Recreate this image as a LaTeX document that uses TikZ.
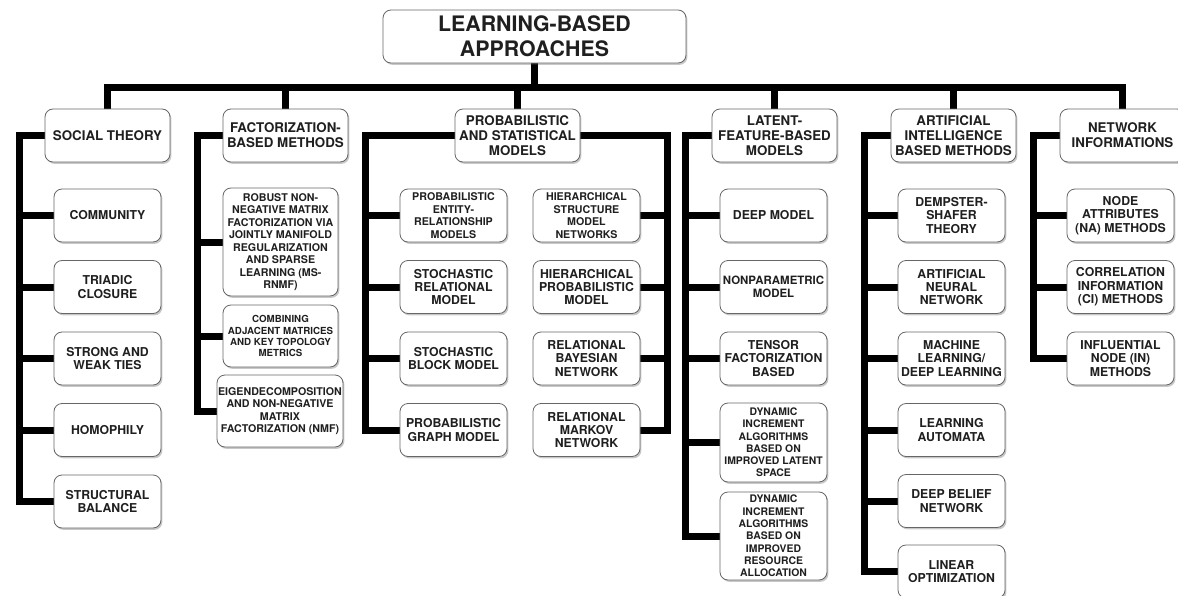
\documentclass[tikz,border=0pt]{standalone}
\usepackage{fontspec}
\setmainfont{TeX Gyre Heros}
\usetikzlibrary{shadows}
\pgfdeclarelayer{bg}
\pgfsetlayers{bg,main}
\tikzset{
  box/.style={draw=black!60, line width=0.6pt, rounded corners=6pt, fill=white,
    align=center, inner sep=0pt, text=black!88,
    font=\bfseries\fontsize{9.2}{10}\selectfont,
    minimum width=80.25pt, minimum height=39.75pt,
    drop shadow={shadow xshift=1.1pt, shadow yshift=-1.4pt, opacity=0.3, fill=black!70}},
  catbox/.style={box, minimum width=93.75pt, font=\bfseries\fontsize{10}{11.4}\selectfont},
  rootbox/.style={box, minimum width=227.25pt, font=\bfseries\fontsize{16}{18.8}\selectfont},
  smalltxt/.style={font=\bfseries\fontsize{8}{9.4}\selectfont},
  tinytxt/.style={font=\bfseries\fontsize{7.3}{8.3}\selectfont},
  dyntxt/.style={font=\bfseries\fontsize{7.8}{9.2}\selectfont},
  conn/.style={line width=5.25pt, black, line join=miter},
}
\begin{document}
\begin{tikzpicture}[x=0.75pt,y=-0.75pt]
\useasboundingbox (0,0) rectangle (1178,596);

% root
\node[rootbox] (root) at (534.5,36.5) {LEARNING-BASED\\APPROACHES};

% categories
\node[catbox] (st) at (107.5,135.5) {SOCIAL THEORY};
\node[catbox] (fb) at (285.5,135.5) {FACTORIZATION-\\BASED METHODS};
\node[catbox] (ps) at (517.5,135.5) {PROBABILISTIC\\AND STATISTICAL\\MODELS};
\node[catbox] (lf) at (774.5,135.5) {LATENT-\\FEATURE-BASED\\MODELS};
\node[catbox] (ai) at (953.5,135.5) {ARTIFICIAL\\INTELLIGENCE\\BASED METHODS};
\node[catbox] (ni) at (1122.5,135.5) {NETWORK\\INFORMATIONS};

% social theory
\node[box] (s1) at (107.5,215.5) {COMMUNITY};
\node[box] (s2) at (107.5,287) {TRIADIC\\CLOSURE};
\node[box] (s3) at (107.5,358.5) {STRONG AND\\WEAK TIES};
\node[box] (s4) at (107.5,430) {HOMOPHILY};
\node[box] (s5) at (107.5,501.5) {STRUCTURAL\\BALANCE};

% factorization
\node[box, smalltxt, minimum width=86.25pt, minimum height=81pt] (f1) at (280.5,242)
  {ROBUST NON-\\NEGATIVE MATRIX\\FACTORIZATION VIA\\JOINTLY MANIFOLD\\REGULARIZATION\\AND SPARSE\\LEARNING (MS-\\RNMF)};
\node[box, tinytxt, minimum width=86.25pt, minimum height=46.5pt] (f2) at (280.5,336)
  {COMBINING\\ADJACENT MATRICES\\AND KEY TOPOLOGY\\METRICS};
\node[box, smalltxt, minimum width=94.5pt, minimum height=54pt] (f3) at (280,411)
  {EIGENDECOMPOSITION\\AND NON-NEGATIVE\\MATRIX\\FACTORIZATION (NMF)};

% probabilistic
\node[box, smalltxt] (p1) at (453.5,215.5) {PROBABILISTIC\\ENTITY-\\RELATIONSHIP\\MODELS};
\node[box] (p2) at (453.5,287) {STOCHASTIC\\RELATIONAL\\MODEL};
\node[box] (p3) at (453.5,358.5) {STOCHASTIC\\BLOCK MODEL};
\node[box] (p4) at (453.5,430) {PROBABILISTIC\\GRAPH MODEL};
\node[box, smalltxt] (q1) at (586.5,215.5) {HIERARCHICAL\\STRUCTURE\\MODEL\\NETWORKS};
\node[box] (q2) at (586.5,287) {HIERARCHICAL\\PROBABILISTIC\\MODEL};
\node[box] (q3) at (586.5,358.5) {RELATIONAL\\BAYESIAN\\NETWORK};
\node[box] (q4) at (586.5,430) {RELATIONAL\\MARKOV\\NETWORK};

% latent
\node[box] (l1) at (773.5,215.5) {DEEP MODEL};
\node[box, font=\bfseries\fontsize{8.6}{10}\selectfont] (l2) at (773.5,287) {NONPARAMETRIC\\MODEL};
\node[box] (l3) at (773.5,358.5) {TENSOR\\FACTORIZATION\\BASED};
\node[box, dyntxt, minimum height=59.25pt] (l4) at (773.5,442.5)
  {DYNAMIC\\INCREMENT\\ALGORITHMS\\BASED ON\\IMPROVED LATENT\\SPACE};
\node[box, dyntxt, minimum height=66pt] (l5) at (773.5,536)
  {DYNAMIC\\INCREMENT\\ALGORITHMS\\BASED ON\\IMPROVED\\RESOURCE\\ALLOCATION};

% AI
\node[box] (a1) at (951.5,215.5) {DEMPSTER-\\SHAFER\\THEORY};
\node[box] (a2) at (951.5,287) {ARTIFICIAL\\NEURAL\\NETWORK};
\node[box] (a3) at (951.5,358.5) {MACHINE\\LEARNING/\\DEEP LEARNING};
\node[box] (a4) at (951.5,430) {LEARNING\\AUTOMATA};
\node[box] (a5) at (951.5,501) {DEEP BELIEF\\NETWORK};
\node[box] (a6) at (951.5,571.5) {LINEAR\\OPTIMIZATION};

% network
\node[box] (n1) at (1120.5,215.5) {NODE\\ATTRIBUTES\\(NA) METHODS};
\node[box] (n2) at (1120.5,287) {CORRELATION\\INFORMATION\\(CI) METHODS};
\node[box] (n3) at (1120.5,358.5) {INFLUENTIAL\\NODE (IN)\\METHODS};

\coordinate (bus) at (0,87);
\coordinate (stv) at (19,0);
\coordinate (fbv) at (197,0);
\coordinate (psl) at (365,0);
\coordinate (psr) at (667,0);
\coordinate (lfv) at (685,0);
\coordinate (aiv) at (864,0);
\coordinate (niv) at (1033,0);

\begin{pgfonlayer}{bg}
\fill[white] (0,0) rectangle (1178,596);
\draw[conn] (root.south) -- (root.south |- bus);
\draw[conn] (st.north) -- (st.north |- bus) -- (ni.north |- bus) -- (ni.north);
\foreach \c in {fb,ps,lf,ai} \draw[conn] (\c.north) -- (\c.north |- bus);

\draw[conn] (st.west) -- (st.west -| stv) |- (s5.west);
\foreach \c in {s1,s2,s3,s4} \draw[conn] (\c.west) -- (\c.west -| stv);

\draw[conn] (fb.west) -- (fb.west -| fbv) |- (f3.west);
\foreach \c in {f1,f2} \draw[conn] (\c.west) -- (\c.west -| fbv);

\draw[conn] (ps.west) -- (ps.west -| psl) |- (p4.west);
\foreach \c in {p1,p2,p3} \draw[conn] (\c.west) -- (\c.west -| psl);
\draw[conn] (ps.east) -- (ps.east -| psr) |- (q4.east);
\foreach \c in {q1,q2,q3} \draw[conn] (\c.east) -- (\c.east -| psr);

\draw[conn] (lf.west) -- (lf.west -| lfv) |- (l5.west);
\foreach \c in {l1,l2,l3,l4} \draw[conn] (\c.west) -- (\c.west -| lfv);

\draw[conn] (ai.west) -- (ai.west -| aiv) |- (a6.west);
\foreach \c in {a1,a2,a3,a4,a5} \draw[conn] (\c.west) -- (\c.west -| aiv);

\draw[conn] (ni.west) -- (ni.west -| niv) |- (n3.west);
\foreach \c in {n1,n2} \draw[conn] (\c.west) -- (\c.west -| niv);
\end{pgfonlayer}
\end{tikzpicture}
\end{document}
